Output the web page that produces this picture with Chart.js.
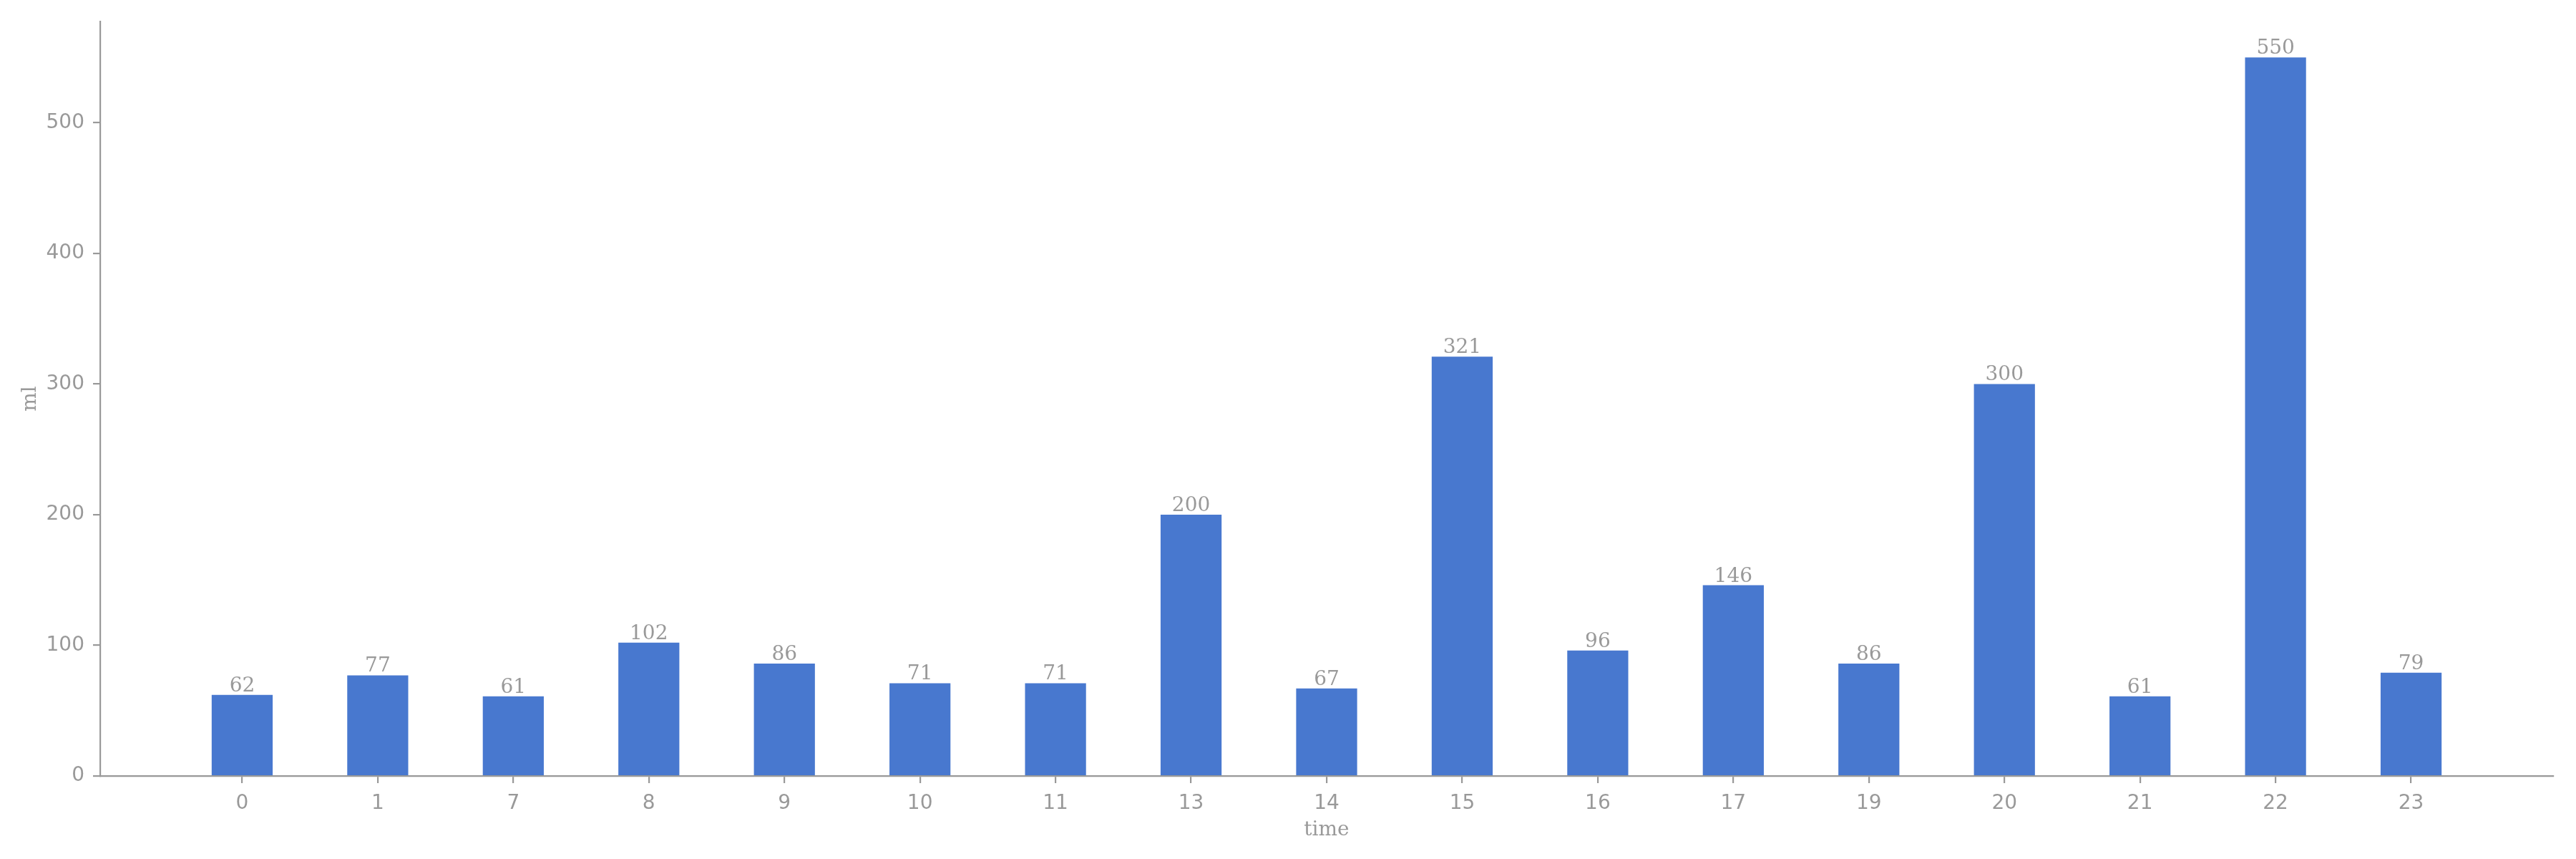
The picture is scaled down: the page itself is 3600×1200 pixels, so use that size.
<!DOCTYPE html>
<html>
<head>
<meta charset="utf-8">
<script src="https://cdn.jsdelivr.net/npm/chart.js@4"></script>
<style>
  html, body { margin: 0; padding: 0; background: #fff; }
  #wrap { width: 3600px; height: 1200px; }
</style>
</head>
<body>
<div id="wrap"><canvas id="chart"></canvas></div>
<script>
// hours of the day that have a reading, and the amount in ml
const hours = ['0', '1', '7', '8', '9', '10', '11', '13', '14', '15', '16', '17', '19', '20', '21', '22', '23']
const amounts = [62, 77, 61, 102, 86, 71, 71, 200, 67, 321, 96, 146, 86, 300, 61, 550, 79]
const yTicks = [0, 100, 200, 300, 400, 500]

const grey = '#999999'
const barColor = '#4878CF'

// bars are 0.45 wide, axis gets a 5% margin around them
const barWidth = 0.45
const xPad = (hours.length - 1 + barWidth) * 0.05 + barWidth / 2
const yMax = Math.max(...amounts) * 1.05

// small stand-in for the datalabels plugin
const valueLabels = {
    id: 'valueLabels',
    afterDatasetsDraw(chart) {
        const ctx = chart.ctx
        const meta = chart.getDatasetMeta(0)
        ctx.save()
        ctx.font = '28px "DejaVu Serif"'
        ctx.fillStyle = grey
        ctx.textAlign = 'center'
        ctx.textBaseline = 'alphabetic'
        meta.data.forEach((bar, i) => {
            ctx.fillText(String(amounts[i]), bar.x, bar.y - 5)
        })
        ctx.restore()
    }
}

const xScale = {
    type: 'linear',
    offset: false,
    min: -xPad,
    max: hours.length - 1 + xPad,
    afterBuildTicks: axis => {
        axis.ticks = hours.map((_, i) => ({value: i}))
    },
    afterFit: axis => { axis.height = 116 },
    ticks: {
        callback: value => hours[value],
        color: grey,
        font: {family: 'DejaVu Sans', size: 28},
        padding: 12,
        maxRotation: 0,
        autoSkip: false
    },
    grid: {
        offset: false,
        drawOnChartArea: false,
        drawTicks: true,
        tickLength: 10,
        color: grey,
        lineWidth: 2.2
    },
    border: {color: grey, width: 2.2},
    title: {
        display: true,
        text: 'time',
        color: grey,
        font: {family: 'DejaVu Serif', size: 28},
        padding: {top: 0, bottom: 23}
    }
}

const yScale = {
    type: 'linear',
    min: 0,
    max: yMax,
    afterBuildTicks: axis => {
        axis.ticks = yTicks.map(v => ({value: v}))
    },
    afterFit: axis => { axis.width = 140 },
    ticks: {
        color: grey,
        font: {family: 'DejaVu Sans', size: 28},
        padding: 12
    },
    grid: {
        drawOnChartArea: false,
        drawTicks: true,
        tickLength: 10,
        color: grey,
        lineWidth: 2.2
    },
    border: {color: grey, width: 2.2},
    title: {
        display: true,
        text: 'ml',
        color: grey,
        font: {family: 'DejaVu Serif', size: 28},
        padding: {top: 26, bottom: 0}
    }
}

const config = {
    type: 'bar',
    plugins: [valueLabels],
    data: {
        datasets: [
            {
                data: amounts.map((v, i) => ({x: i, y: v})),
                backgroundColor: barColor,
                borderWidth: 0,
                barPercentage: barWidth,
                categoryPercentage: 1
            }
        ]
    },
    options: {
        responsive: true,
        maintainAspectRatio: false,
        animation: false,
        devicePixelRatio: 1,
        layout: {
            padding: {left: 0, right: 32, top: 30, bottom: 0}
        },
        scales: {
            x: xScale,
            y: yScale
        },
        plugins: {
            legend: {display: false},
            tooltip: {enabled: false}
        }
    }
}

new Chart(document.getElementById('chart'), config)
</script>
</body>
</html>
